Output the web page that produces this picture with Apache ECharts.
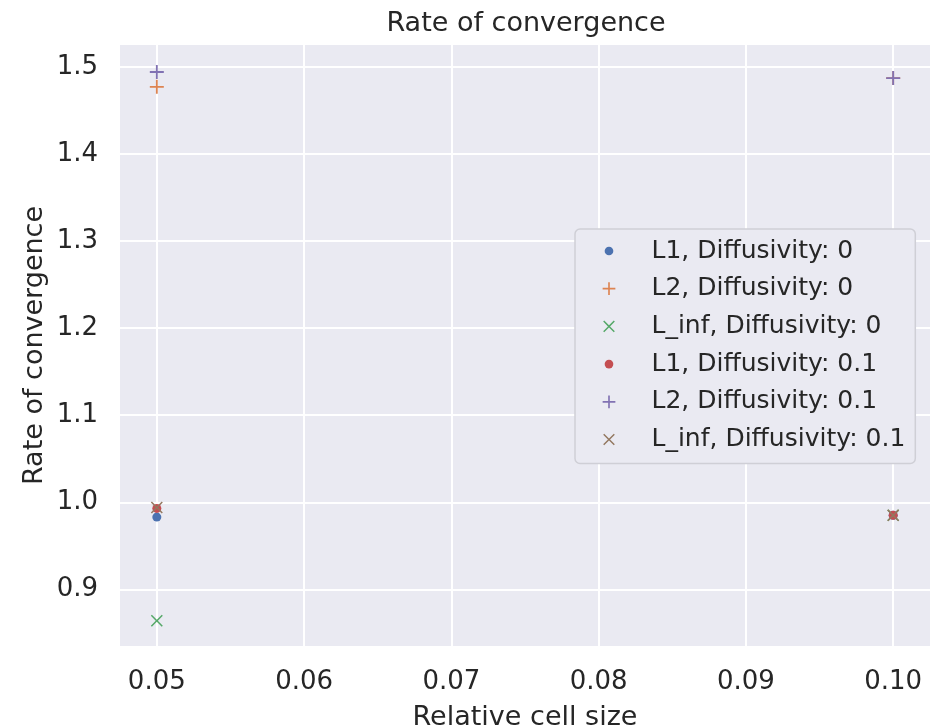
<!DOCTYPE html>
<html>
<head>
<meta charset="utf-8">
<script src="https://cdn.jsdelivr.net/npm/echarts@6/dist/echarts.min.js"></script>
<style>
html,body{margin:0;padding:0;background:#fff;}
#chart{width:942px;height:728px;}
</style>
</head>
<body>
<div id="chart"></div>
<script>
// ---- data ----
const cellSizes = [0.05, 0.10];
const xTicks = [0.05, 0.06, 0.07, 0.08, 0.09, 0.10];
const yTicks = [0.9, 1.0, 1.1, 1.2, 1.3, 1.4, 1.5];
const seriesNames = [
  'L1, Diffusivity: 0',
  'L2, Diffusivity: 0',
  'L_inf, Diffusivity: 0',
  'L1, Diffusivity: 0.1',
  'L2, Diffusivity: 0.1',
  'L_inf, Diffusivity: 0.1'
];
const L1_D0    = [0.983, 0.985];
const L2_D0    = [1.477, 1.487];
const Linf_D0  = [0.864, 0.985];
const L1_D01   = [0.993, 0.985];
const L2_D01   = [1.494, 1.487];
const Linf_D01 = [0.994, 0.985];
const seriesValues = [L1_D0, L2_D0, Linf_D0, L1_D01, L2_D01, Linf_D01];

// ---- styles ----
const colors = ['#4C72B0', '#DD8452', '#55A868', '#C44E52', '#8172B3', '#937860'];
const PLUS = 'path://M-1,-0.13 L-0.13,-0.13 L-0.13,-1 L0.13,-1 L0.13,-0.13 L1,-0.13 L1,0.13 L0.13,0.13 L0.13,1 L-0.13,1 L-0.13,0.13 L-1,0.13 Z';
const a = 0.18;
const CROSS = 'path://M0,' + (-a) + ' L' + (1 - a) + ',-1 L1,' + (-1 + a) + ' L' + a + ',0 L1,' + (1 - a) +
  ' L' + (1 - a) + ',1 L0,' + a + ' L' + (-1 + a) + ',1 L-1,' + (1 - a) + ' L' + (-a) + ',0 L-1,' + (-1 + a) +
  ' L' + (-1 + a) + ',-1 Z';
// legend icons with an invisible padded bounding box
const DOT_SMALL = 'path://M-1,-1 M1,1 M0.62,0 A0.62,0.62 0 1,1 -0.62,0 A0.62,0.62 0 1,1 0.62,0 Z';
const PLUS_L = 'path://M-1.1,-1.1 M1.1,1.1 ' + PLUS.slice(7);
const CROSS_L = 'path://M-1.2,-1.2 M1.2,1.2 ' + CROSS.slice(7);
const symbols = ['circle', PLUS, CROSS, 'circle', PLUS, CROSS];
const legendIcons = [DOT_SMALL, PLUS_L, CROSS_L, DOT_SMALL, PLUS_L, CROSS_L];
const sizes = [9, 14, 12, 9, 14, 12];
const FONT = 'DejaVu Sans';
const TXT = '#262626';

const series = seriesNames.map((name, i) => ({
  name: name,
  type: 'scatter',
  symbol: symbols[i],
  symbolSize: sizes[i],
  itemStyle: { color: colors[i], opacity: 1 },
  data: cellSizes.map((x, j) => [x, seriesValues[i][j]]),
  z: 2 + i
}));

const chart = echarts.init(document.getElementById('chart'), null, { renderer: 'canvas' });
chart.setOption({
  animation: false,
  backgroundColor: '#ffffff',
  textStyle: { fontFamily: FONT, color: TXT },
  title: {
    text: 'Rate of convergence',
    left: 521,
    top: 5,
    textAlign: 'center',
    textStyle: { fontFamily: FONT, fontSize: 27, fontWeight: 'normal', color: TXT }
  },
  grid: {
    left: 120, right: 12, top: 45, bottom: 82,
    containLabel: false,
    outerBoundsMode: 'none',
    show: true, backgroundColor: '#EAEAF2', borderWidth: 0
  },
  xAxis: {
    type: 'value',
    min: 0.0475,
    max: 0.1025,
    name: 'Relative cell size',
    nameLocation: 'middle',
    nameGap: 58,
    nameMoveOverlap: false,
    nameTextStyle: { fontFamily: FONT, fontSize: 27, color: TXT },
    axisLine: { show: false },
    axisTick: { show: false, customValues: xTicks },
    axisLabel: {
      customValues: xTicks,
      fontFamily: FONT, fontSize: 26, color: TXT, margin: 23,
      formatter: v => Number(v).toFixed(2)
    },
    splitLine: { show: true, lineStyle: { color: '#ffffff', width: 2 } }
  },
  yAxis: {
    type: 'value',
    min: 0.835,
    max: 1.525,
    name: 'Rate of convergence',
    nameLocation: 'middle',
    nameGap: 72,
    nameMoveOverlap: false,
    nameTextStyle: { fontFamily: FONT, fontSize: 27, color: TXT },
    axisLine: { show: false },
    axisTick: { show: false, customValues: yTicks },
    axisLabel: {
      customValues: yTicks,
      fontFamily: FONT, fontSize: 26, color: TXT, margin: 22,
      formatter: v => Number(v).toFixed(1)
    },
    splitLine: { show: true, lineStyle: { color: '#ffffff', width: 2 } }
  },
  legend: {
    orient: 'vertical',
    left: 575,
    top: 229,
    padding: [8, 10, 10, 27],
    itemWidth: 75,
    itemHeight: 14,
    itemGap: 9.7,
    backgroundColor: '#EAEAF2',
    borderColor: '#cfcfd6',
    borderWidth: 1.5,
    borderRadius: 5,
    textStyle: { fontFamily: FONT, fontSize: 25, color: TXT, lineHeight: 28 },
    data: seriesNames.map((n, i) => ({ name: n, icon: legendIcons[i] }))
  },
  series: series
});
</script>
</body>
</html>
